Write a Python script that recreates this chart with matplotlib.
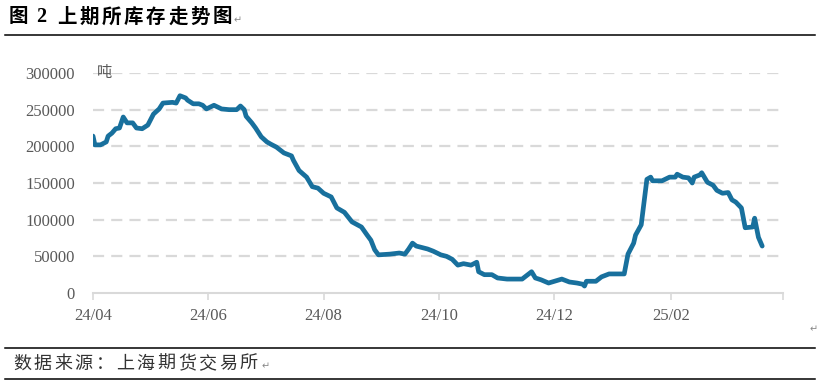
"""上期所库存走势图 (图 2) — recreated with matplotlib."""

import matplotlib

matplotlib.use("Agg")
import matplotlib.pyplot as plt
import pandas as pd

# ---- data ----
dates = [
    "2024-04-01", "2024-04-02", "2024-04-05", "2024-04-08", "2024-04-09",
    "2024-04-11", "2024-04-13", "2024-04-15", "2024-04-17", "2024-04-19",
    "2024-04-22", "2024-04-24", "2024-04-27", "2024-04-30", "2024-05-03",
    "2024-05-06", "2024-05-08", "2024-05-13", "2024-05-15", "2024-05-17",
    "2024-05-20", "2024-05-21", "2024-05-24", "2024-05-27", "2024-05-29",
    "2024-05-31", "2024-06-04", "2024-06-08", "2024-06-12", "2024-06-16",
    "2024-06-18", "2024-06-20", "2024-06-21", "2024-06-24", "2024-06-26",
    "2024-06-29", "2024-07-02", "2024-07-04", "2024-07-07", "2024-07-11",
    "2024-07-15", "2024-07-16", "2024-07-19", "2024-07-23", "2024-07-26",
    "2024-07-29", "2024-08-01", "2024-08-05", "2024-08-08", "2024-08-12",
    "2024-08-16", "2024-08-21", "2024-08-24", "2024-08-26", "2024-08-28",
    "2024-08-30", "2024-09-05", "2024-09-10", "2024-09-13", "2024-09-15",
    "2024-09-17", "2024-09-19", "2024-09-25", "2024-09-28", "2024-10-02",
    "2024-10-05", "2024-10-08", "2024-10-11", "2024-10-14", "2024-10-18",
    "2024-10-21", "2024-10-22", "2024-10-25", "2024-10-29", "2024-11-01",
    "2024-11-06", "2024-11-10", "2024-11-14", "2024-11-19", "2024-11-21",
    "2024-11-24", "2024-11-28", "2024-12-05", "2024-12-09", "2024-12-13",
    "2024-12-16", "2024-12-17", "2024-12-18", "2024-12-23", "2024-12-26",
    "2024-12-30", "2025-01-07", "2025-01-09", "2025-01-12", "2025-01-13",
    "2025-01-16", "2025-01-19", "2025-01-21", "2025-01-22", "2025-01-27",
    "2025-01-31", "2025-02-03", "2025-02-04", "2025-02-07", "2025-02-10",
    "2025-02-12", "2025-02-13", "2025-02-16", "2025-02-17", "2025-02-20",
    "2025-02-23", "2025-02-25", "2025-02-28", "2025-03-03", "2025-03-05",
    "2025-03-07", "2025-03-10", "2025-03-12", "2025-03-16", "2025-03-17",
    "2025-03-19", "2025-03-21",
]
stock = [
    214000, 202000, 202000, 206000, 214000,
    218000, 224000, 225000, 240000, 232000,
    232000, 225000, 224000, 229000, 244000,
    251000, 259000, 260000, 259000, 269000,
    266000, 263000, 258000, 258000, 256000,
    251000, 256000, 251000, 250000, 250000,
    255000, 250000, 241000, 232000, 225000,
    213000, 206000, 203000, 199000, 191000,
    187000, 181000, 167000, 158000, 145000,
    143000, 136000, 131000, 116000, 110000,
    97000, 90000, 79000, 72000, 59000,
    52000, 53000, 54500, 53000, 60000,
    68000, 64000, 60000, 57000, 52000,
    50000, 46000, 38000, 40000, 38000,
    42000, 29000, 25000, 25000, 20500,
    19000, 19000, 19000, 29000, 20500,
    18000, 13600, 19000, 15000, 13600,
    12000, 9500, 16000, 16000, 22000,
    26000, 26000, 53000, 68000, 79000,
    93000, 155000, 158000, 153000, 153000,
    158000, 158000, 162000, 158000, 157000,
    150000, 158000, 161000, 164000, 151000,
    147000, 140000, 136000, 137000, 127000,
    124000, 116000, 89000, 90000, 102000,
    76000, 64000,
]
x_ticks = ["2024-04-01", "2024-06-01", "2024-08-01", "2024-10-01",
           "2024-12-01", "2025-02-01", "2025-04-01"]
x_tick_labels = ["24/04", "24/06", "24/08", "24/10", "24/12", "25/02", ""]
y_ticks = [0, 50000, 100000, 150000, 200000, 250000, 300000]
title_text = "上期所库存走势图"
source_text = "数据来源：上海期货交易所"

LINE = "#18709d"
GREY = "#595959"
GRID = "#d9d9d9"
CJK = ["Noto Sans CJK SC", "DejaVu Sans"]
SERIF = ["Liberation Serif", "DejaVu Serif"]
W, H = 820, 385


def spaced_text(fig, x0, y, text, advance, **kw):
    """Draw text one glyph at a time (px positions) to mimic wide CJK spacing."""
    for i, ch in enumerate(text):
        fig.text((x0 + i * advance) / W, 1 - y / H, ch, ha="center",
                 va="center", **kw)


fig = plt.figure(figsize=(W / 100, H / 100), dpi=100)
ax = fig.add_axes((93 / W, 1 - 293 / H, 690 / W, 220 / H))

ax.plot(pd.to_datetime(dates), stock, color=LINE, lw=3.4,
        solid_joinstyle="round", solid_capstyle="round", zorder=3)

ax.set_xlim(pd.Timestamp(x_ticks[0]), pd.Timestamp(x_ticks[-1]))
ax.set_ylim(0, 300000)
ax.set_xticks(pd.to_datetime(x_ticks))
ax.set_xticklabels(x_tick_labels)
ax.set_yticks(y_ticks)
ax.set_yticklabels([str(v) for v in y_ticks])

for v in y_ticks[1:]:
    ax.axhline(v, color=GRID, lw=1.6, ls=(0, (5, 3.2)), zorder=1)

for side in ("left", "right", "top"):
    ax.spines[side].set_visible(False)
ax.spines["bottom"].set_color(GRID)
ax.spines["bottom"].set_linewidth(1.5)
ax.tick_params(axis="x", direction="out", length=5, width=1.2, color=GRID,
               pad=6, labelcolor=GREY, labelsize=12)
ax.tick_params(axis="y", length=0, pad=13, labelcolor=GREY, labelsize=12)
for lab in ax.get_xticklabels() + ax.get_yticklabels():
    lab.set_family(SERIF)

ax.text(0.006, 1.0, "吨", transform=ax.transAxes, ha="left", va="center",
        color=GREY, fontsize=11, family=CJK)

# surrounding document frame: title, rules and source note
fig.text(9 / W, 1 - 17 / H, "图", ha="left", va="center", fontsize=14,
         fontweight="bold", family=CJK)
fig.text(36 / W, 1 - 17 / H, "2", ha="left", va="center", fontsize=14.5,
         fontweight="bold", family=SERIF)
spaced_text(fig, 67, 17, title_text, 22.2, fontsize=14, fontweight="bold",
            family=CJK)
fig.text(234 / W, 1 - 20 / H, "↵", ha="left", va="center",
         fontsize=7, color="#888888", family=CJK)
spaced_text(fig, 22, 364, source_text, 20.6, fontsize=13, color="#333333",
            family=CJK)
fig.text(262 / W, 1 - 366 / H, "↵", ha="left", va="center",
         fontsize=7, color="#888888", family=CJK)
fig.text(810 / W, 1 - 329 / H, "↵", ha="left", va="center",
         fontsize=7, color="#888888", family=CJK)
for y in (35, 348, 379):
    fig.add_artist(plt.Line2D([5 / W, 815 / W], [1 - y / H] * 2,
                              color="black", lw=1.1))

fig.savefig("out.png", dpi=100)
plt.close(fig)
